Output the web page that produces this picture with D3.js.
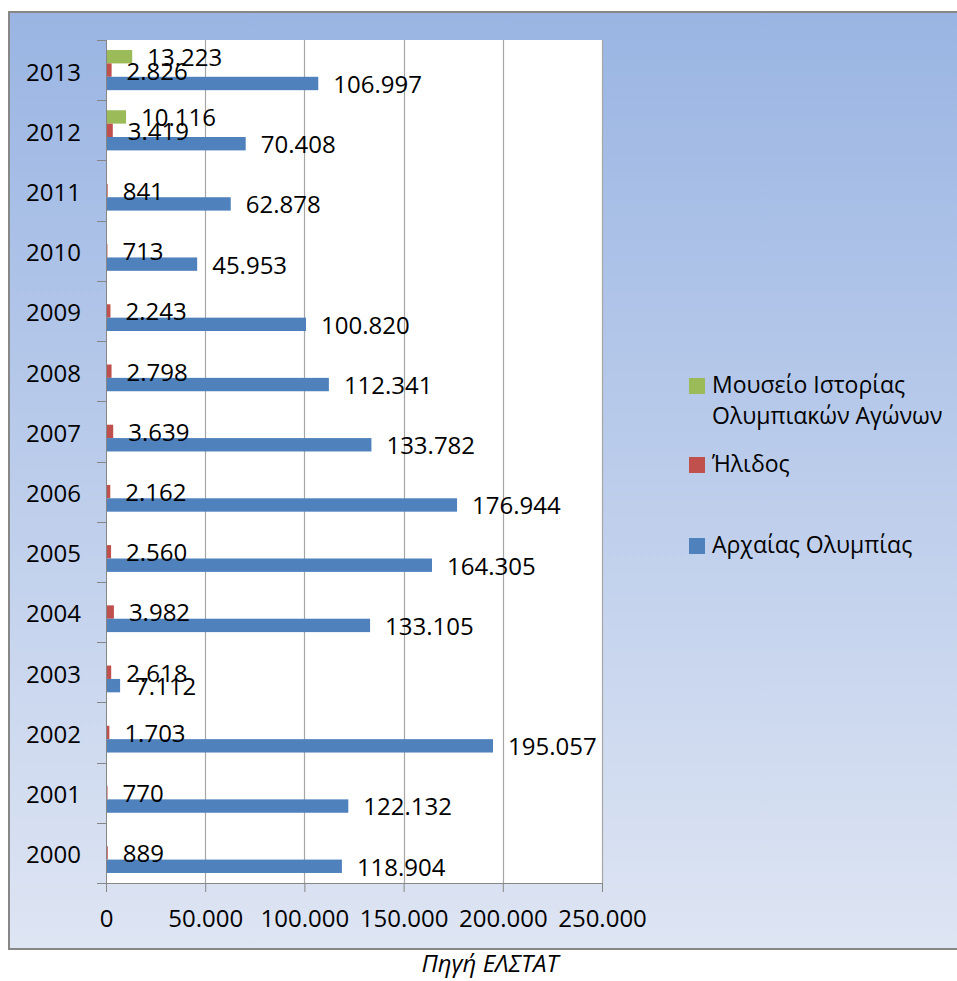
<!DOCTYPE html>
<html>
<head>
<meta charset="utf-8">
<script src="https://cdn.jsdelivr.net/npm/d3@7"></script>
<style>
  html, body { margin: 0; padding: 0; background: #fff; }
  svg { display: block; }
  text { font-family: "Open Sans", "Noto Sans", sans-serif; fill: #000; }
</style>
</head>
<body>
<svg id="chart" width="957" height="981"></svg>
<script>
// ---- data ----
const years = ["2000","2001","2002","2003","2004","2005","2006","2007","2008","2009","2010","2011","2012","2013"];
const archaias = [118904,122132,195057,7112,133105,164305,176944,133782,112341,100820,45953,62878,70408,106997];
const ilidos   = [889,770,1703,2618,3982,2560,2162,3639,2798,2243,713,841,3419,2826];
const mouseio  = [null,null,null,null,null,null,null,null,null,null,null,null,10116,13223];
const seriesNames = ["Μουσείο Ιστορίας Ολυμπιακών Αγώνων","Ήλιδος","Αρχαίας Ολυμπίας"];
const seriesColors = ["#9BBB59","#C0504D","#4F81BD"];
const xTicks = [0,50000,100000,150000,200000,250000];
const sourceText = "Πηγή ΕΛΣΤΑΤ";

const seriesValues = [mouseio, ilidos, archaias];

(function () {
const svg = d3.select("#chart");
const locale = d3.formatLocale({decimal: ",", thousands: ".", grouping: [3], currency: ["", "€"]});
const fmt = locale.format(",d");

// ---- background frame ----
const defs = svg.append("defs");
const grad = defs.append("linearGradient").attr("id","bg").attr("x1",0).attr("y1",0).attr("x2",0).attr("y2",1);
grad.append("stop").attr("offset","0%").attr("stop-color","rgb(154,181,227)");
grad.append("stop").attr("offset","100%").attr("stop-color","rgb(222,229,243)");

svg.append("rect").attr("x",9).attr("y",12).attr("width",960).attr("height",937)
  .attr("fill","url(#bg)").attr("stroke","#878787").attr("stroke-width",2);

// ---- scales ----
const pLeft = 106, pRight = 602, pTop = 40, pBottom = 883;
const x = d3.scaleLinear().domain([0,250000]).range([pLeft,pRight]);
const y = d3.scaleBand().domain(years.slice().reverse()).range([pTop,pBottom]).paddingInner(0).paddingOuter(0);
const inner = d3.scaleBand().domain([0,1,2]).range([0,y.bandwidth()]).paddingInner(0).paddingOuter(0.75);

// plot area
svg.append("rect").attr("x",pLeft).attr("y",pTop).attr("width",pRight-pLeft).attr("height",pBottom-pTop).attr("fill","#fff");

// gridlines
svg.append("g").selectAll("line").data(xTicks.slice(1)).join("line")
  .attr("x1",d=>Math.round(x(d))+0.5).attr("x2",d=>Math.round(x(d))+0.5)
  .attr("y1",pTop).attr("y2",pBottom)
  .attr("stroke","#A6A6A6").attr("stroke-width",1.2);

// bars
seriesValues.forEach((vals, si) => {
  svg.append("g").selectAll("rect").data(years.map((yr,i)=>({yr, v: vals[i]})).filter(d=>d.v!=null)).join("rect")
    .attr("x", x(0))
    .attr("y", d => y(d.yr) + inner(si))
    .attr("width", d => x(d.v) - x(0))
    .attr("height", inner.bandwidth())
    .attr("fill", seriesColors[si]);
});

// x axis
const xAxis = svg.append("g").attr("transform",`translate(0,${pBottom})`)
  .call(d3.axisBottom(x).tickValues(xTicks).tickSize(9).tickFormat(d => d===0 ? "0" : fmt(d)));
xAxis.select(".domain").attr("stroke","#868686").attr("d",`M${pLeft-9},0.5H${pRight}`);
xAxis.selectAll(".tick line").attr("stroke","#868686");
xAxis.selectAll(".tick text").attr("font-size",24).attr("y",36).attr("dy","0.35em")
  .style("font-family",'"Open Sans", sans-serif').attr("fill","#000");

// y axis
const boundaries = years.map(yr => y(yr)).concat([pBottom]);
const yAxisG = svg.append("g");
yAxisG.append("line").attr("x1",pLeft+0.5).attr("x2",pLeft+0.5).attr("y1",pTop).attr("y2",pBottom).attr("stroke","#868686");
yAxisG.selectAll("line.t").data(boundaries).join("line").attr("class","t")
  .attr("x1",pLeft-9).attr("x2",pLeft).attr("y1",d=>Math.round(d)+0.5).attr("y2",d=>Math.round(d)+0.5)
  .attr("stroke","#868686");
yAxisG.selectAll("text").data(years).join("text")
  .attr("x",81).attr("y",d=>y(d)+y.bandwidth()/2+2).attr("dy","0.35em")
  .attr("text-anchor","end").attr("font-size",24).text(d=>d);

// data labels
seriesValues.forEach((vals, si) => {
  svg.append("g").selectAll("text").data(years.map((yr,i)=>({yr, v: vals[i]})).filter(d=>d.v!=null)).join("text")
    .attr("x", d => x(d.v) + 15)
    .attr("y", d => y(d.yr) + inner(si) + inner.bandwidth()/2 + 1)
    .attr("dy","0.35em")
    .attr("font-size",24)
    .text(d => fmt(d.v));
});

// legend
const legendItems = [
  {c: seriesColors[0], lines: ["Μουσείο Ιστορίας","Ολυμπιακών Αγώνων"], sq: 378, base: 393},
  {c: seriesColors[1], lines: ["Ήλιδος"], sq: 457, base: 472},
  {c: seriesColors[2], lines: ["Αρχαίας Ολυμπίας"], sq: 538, base: 553}
];
const lg = svg.append("g");
legendItems.forEach(it => {
  lg.append("rect").attr("x",689).attr("y",it.sq).attr("width",16).attr("height",16).attr("fill",it.c);
  it.lines.forEach((ln, li) => {
    lg.append("text").attr("x",712).attr("y",it.base + li*31).attr("font-size",23).text(ln);
  });
});

// source
svg.append("text").attr("x",490).attr("y",964).attr("dy","0.35em").attr("text-anchor","middle")
  .attr("font-size",24).attr("font-style","italic").text(sourceText);
})();
</script>
</body>
</html>
